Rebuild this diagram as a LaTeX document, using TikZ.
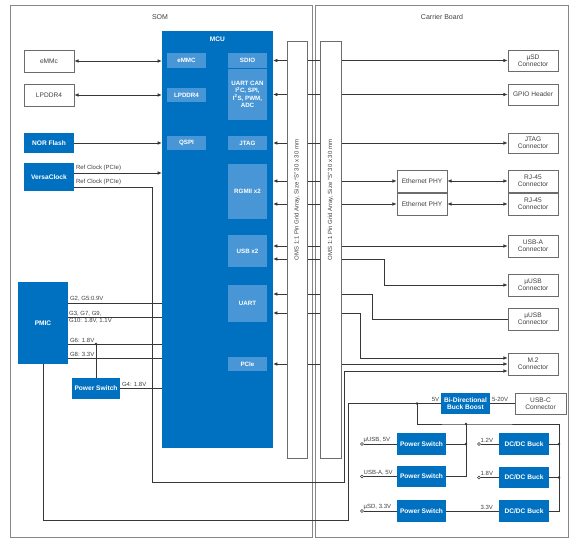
\documentclass[tikz,border=0pt]{standalone}
\usepackage{fontspec}
\setmainfont{Liberation Sans}
\usepackage{tikz}
\usetikzlibrary{arrows.meta}

\definecolor{mcublue}{RGB}{0,112,192}
\definecolor{subblue}{RGB}{72,150,214}
\definecolor{framegray}{RGB}{135,135,135}
\definecolor{wiregray}{RGB}{55,55,55}

\tikzset{
  frame/.style={draw=framegray, line width=0.8pt},
  wbox/.style={draw=framegray!80!black, fill=white, line width=0.7pt, inner sep=1pt, align=center, text=black!75, font=\fontsize{6.6}{7.4}\selectfont},
  bbox/.style={fill=mcublue, text=white, inner sep=1pt, align=center, font=\fontsize{6.6}{7.4}\selectfont\bfseries},
  subbox/.style={fill=subblue, text=white, minimum width=39pt, inner sep=1pt, align=center, font=\fontsize{6.2}{7.4}\selectfont\bfseries},
  lbl/.style={inner sep=1.5pt, text=black!75, font=\fontsize{6}{7}\selectfont},
  wire/.style={draw=wiregray, line width=0.65pt},
  pinbox/.style={draw=framegray!80!black, fill=white, line width=0.7pt, inner sep=0pt},
  inport/.style={circle, draw=wiregray, fill=white, line width=0.5pt, inner sep=0pt, minimum size=3pt}
}

\begin{document}
\begin{tikzpicture}[x=1pt, y=-1pt, >={Latex[length=4.2pt,width=3.6pt]}]
\useasboundingbox (0,0) rectangle (579,547);

% Frames
\draw[frame] (10,5) rectangle (312,537);
\draw[frame] (315,5) rectangle (568,537);
\node[lbl, font=\fontsize{7}{8}\selectfont] (somlbl) at (160,17) {SOM};
\node[lbl, font=\fontsize{7}{8}\selectfont] (cblbl) at (442,17) {Carrier Board};

% MCU and its blocks
\node[fill=mcublue, minimum width=111pt, minimum height=417pt, inner sep=0pt] (mcu) at (217.5,239.5) {};
\node[bbox] (mculbl) at (217.5,39) {MCU};
\node[subbox, minimum height=15pt] (iemmc) at (186.5,60.5) {eMMC};
\node[subbox, minimum height=15pt] (isdio) at (247.5,60.5) {SDIO};
\node[subbox, minimum height=51pt] (ibus) at (247.5,94.5) {UART CAN\\I\textsuperscript{2}C, SPI,\\I\textsuperscript{2}S, PWM,\\ADC};
\node[subbox, minimum height=14pt] (ilpddr) at (186.5,95) {LPDDR4};
\node[subbox, minimum height=14pt] (iqspi) at (186.5,143) {QSPI};
\node[subbox, minimum height=14pt] (ijtag) at (247.5,143) {JTAG};
\node[subbox, minimum height=55pt] (irgmii) at (247.5,191.5) {RGMII x2};
\node[subbox, minimum height=32pt] (iusb) at (247.5,251) {USB x2};
\node[subbox, minimum height=37pt] (iuart) at (247.5,303.5) {UART};
\node[subbox, minimum height=14pt] (ipcie) at (247.5,364) {PCIe};

% SOM parts
\node[wbox, minimum width=50pt, minimum height=22pt] (emmc) at (49,61) {eMMc};
\node[wbox, minimum width=50pt, minimum height=22pt] (lpddr) at (49,95) {LPDDR4};
\node[bbox, minimum width=50pt, minimum height=20pt] (nor) at (49,143) {NOR Flash};
\node[bbox, minimum width=50pt, minimum height=28pt] (versa) at (49,177) {VersaClock};
\node[bbox, minimum width=50pt, minimum height=82pt] (pmic) at (43,323) {PMIC};
\node[bbox, minimum width=48pt, minimum height=21pt] (pswl) at (96,388.5) {Power Switch};

% Carrier parts
\node[wbox, minimum width=50pt, minimum height=21pt] (usd) at (533,60.5) {µSD\\Connector};
\node[wbox, minimum width=50pt, minimum height=21pt] (gpio) at (533,94.5) {GPIO Header};
\node[wbox, minimum width=50pt, minimum height=20pt] (jtagc) at (533,143) {JTAG\\Connector};
\node[wbox, minimum width=50pt, minimum height=22pt] (phy1) at (422,181) {Ethernet PHY};
\node[wbox, minimum width=50pt, minimum height=22pt] (phy2) at (422,204) {Ethernet PHY};
\node[wbox, minimum width=50pt, minimum height=22pt] (rj1) at (533,181) {RJ-45\\Connector};
\node[wbox, minimum width=50pt, minimum height=22pt] (rj2) at (533,204) {RJ-45\\Connector};
\node[wbox, minimum width=50pt, minimum height=22pt] (usba) at (533,246) {USB-A\\Connector};
\node[wbox, minimum width=50pt, minimum height=22pt] (uusb1) at (533,285) {µUSB\\Connector};
\node[wbox, minimum width=50pt, minimum height=22pt] (uusb2) at (533,319) {µUSB\\Connector};
\node[wbox, minimum width=50pt, minimum height=22pt] (m2) at (533,364) {M.2\\Connector};
\node[wbox, minimum width=51pt, minimum height=21pt] (usbc) at (540.5,403.5) {USB-C\\Connector};
\node[bbox, minimum width=49pt, minimum height=21pt] (bb) at (465.5,403.5) {Bi-Directional\\Buck Boost};
\node[bbox, minimum width=49pt, minimum height=22pt] (ps1) at (421.5,444) {Power Switch};
\node[bbox, minimum width=49pt, minimum height=21pt] (ps2) at (421.5,476.5) {Power Switch};
\node[bbox, minimum width=49pt, minimum height=22pt] (ps3) at (421.5,511) {Power Switch};
\node[bbox, minimum width=50pt, minimum height=22pt] (dc1) at (524,444) {DC/DC Buck};
\node[bbox, minimum width=50pt, minimum height=21pt] (dc2) at (524,477.5) {DC/DC Buck};
\node[bbox, minimum width=50pt, minimum height=22pt] (dc3) at (524,511) {DC/DC Buck};

% Supply inputs
\node[inport] (in1) at (362,444) {};
\node[inport] (in2) at (362,476.5) {};
\node[inport] (in3) at (362,511) {};
\node[inport] (in4) at (479,444) {};
\node[inport] (in5) at (479,477.5) {};
\node[lbl, above right] (tin1) at (in1) {µUSB, 5V};
\node[lbl, above right] (tin2) at (in2) {USB-A, 5V};
\node[lbl, above right] (tin3) at (in3) {µSD, 3.3V};
\node[lbl, above right] (tin4) at (in4) {1.2V};
\node[lbl, above right] (tin5) at (in5) {1.8V};

% SOM wiring
\draw[wire, <->] (emmc) -- (mcu.west |- emmc);
\draw[wire, <->] (lpddr) -- (mcu.west |- lpddr);
\draw[wire, ->] (nor) -- (mcu.west |- nor);
\draw[wire, ->] ([yshift=4pt]versa.east) node[lbl, above right] {Ref Clock (PCIe)} -- (mcu.west |- 0,173);
\draw[wire, ->] ([yshift=-10pt]versa.east) node[lbl, above right] {Ref Clock (PCIe)} -| (152,482) -| (344,371) -- ([yshift=-7pt]m2.west);

% PMIC rails
\draw[wire] (pmic.east |- 0,303) node[lbl, above right] {G2, G5:0.9V} -- (mcu.west |- 0,303);
\draw[wire] (pmic.east |- 0,317) node[lbl, above right, inner sep=0.6pt] {G3, G7, G9,} node[lbl, below right, inner sep=0.6pt] {G10: 1.8V, 1.1V} -- (mcu.west |- 0,317);
\draw[wire] (pmic.east |- 0,344) node[lbl, above right] {G6: 1.8V} -- (mcu.west |- 0,344);
\draw[wire] (pmic.east |- 0,358) node[lbl, above right] {G8: 3.3V} -- (mcu.west |- 0,358);
\coordinate (g6) at (96,344);
\draw[wire] (g6) -- (pswl);
\fill[wiregray] (g6) circle (1.4pt);
\draw[wire] (pswl.east) node[lbl, above right] {G4: 1.8V} -- (mcu.west |- pswl.east);

% Board to board signals
\draw[wire, <->] (mcu.east |- usd) -- (usd);
\draw[wire, <->] (mcu.east |- gpio) -- (gpio);
\draw[wire, <->] (mcu.east |- jtagc) -- (jtagc);
\draw[wire, <->] (mcu.east |- phy1) -- (phy1);
\draw[wire, <->] (mcu.east |- phy2) -- (phy2);
\draw[wire, <->] (phy1) -- (rj1);
\draw[wire, <->] (phy2) -- (rj2);
\draw[wire, <->] (mcu.east |- usba) -- (usba);
\draw[wire, <->] (mcu.east |- 0,259) -| (384,285) -- (uusb1.west);
\draw[wire, <-] (mcu.east |- 0,294) -| (372,319) -- (uusb2.west);
\draw[wire, <->] (mcu.east |- 0,313) -| (360,358) -- ([yshift=6pt]m2.west);
\draw[wire, <->] (mcu.east |- m2) -- (m2);

% Power tree
\coordinate (j5) at (417,403.5);
\coordinate (jb) at (466,424);
\coordinate (jp) at (466,444);
\coordinate (bustop) at (559,424);
\draw[wire] (pmic.south) |- (348,520) |- (bb.west);
\node[lbl, above left] (t5v) at (bb.west) {5V};
\draw[wire] (bb.east) node[lbl, above right] {5-20V} -- (usbc);
\draw[wire] (j5) |- (jb) -- (bustop) |- (dc3.east);
\draw[wire] (jb) -- (jp);
\draw[wire] (ps1) -- (jp);
\draw[wire] (ps2.east) -| (jp);
\draw[wire] (dc1.east) -- (dc1.east -| bustop);
\draw[wire] (dc2.east) -- (dc2.east -| bustop);
\draw[wire] (ps3) -- (dc3) node[lbl, above right, pos=0.62] {3.3V};
\draw[wire] (in1) -- (ps1);
\draw[wire] (in2) -- (ps2);
\draw[wire] (in3) -- (ps3);
\draw[wire] (in4) -- (dc1);
\draw[wire] (in5) -- (dc2);
\foreach \j in {j5, jb, jp}
  \fill[wiregray] (\j) circle (1.4pt);
\fill[wiregray] (dc1.east -| bustop) circle (1.4pt);
\fill[wiregray] (dc2.east -| bustop) circle (1.4pt);

% Pin grid arrays
\node[pinbox, minimum width=20pt, minimum height=417pt] (pinl) at (297,249.5) {};
\node[pinbox, minimum width=21pt, minimum height=417pt] (pinr) at (330.5,249.5) {};
\node[lbl, rotate=90] (pinltxt) at (pinl |- 0,200) {OMS 1:1 Pin Grid Array, Size ``S'' 30 x 30 mm};
\node[lbl, rotate=90] (pinrtxt) at (pinr |- 0,200) {OMS 1:1 Pin Grid Array, Size ``S'' 30 x 30 mm};
\end{tikzpicture}
\end{document}
